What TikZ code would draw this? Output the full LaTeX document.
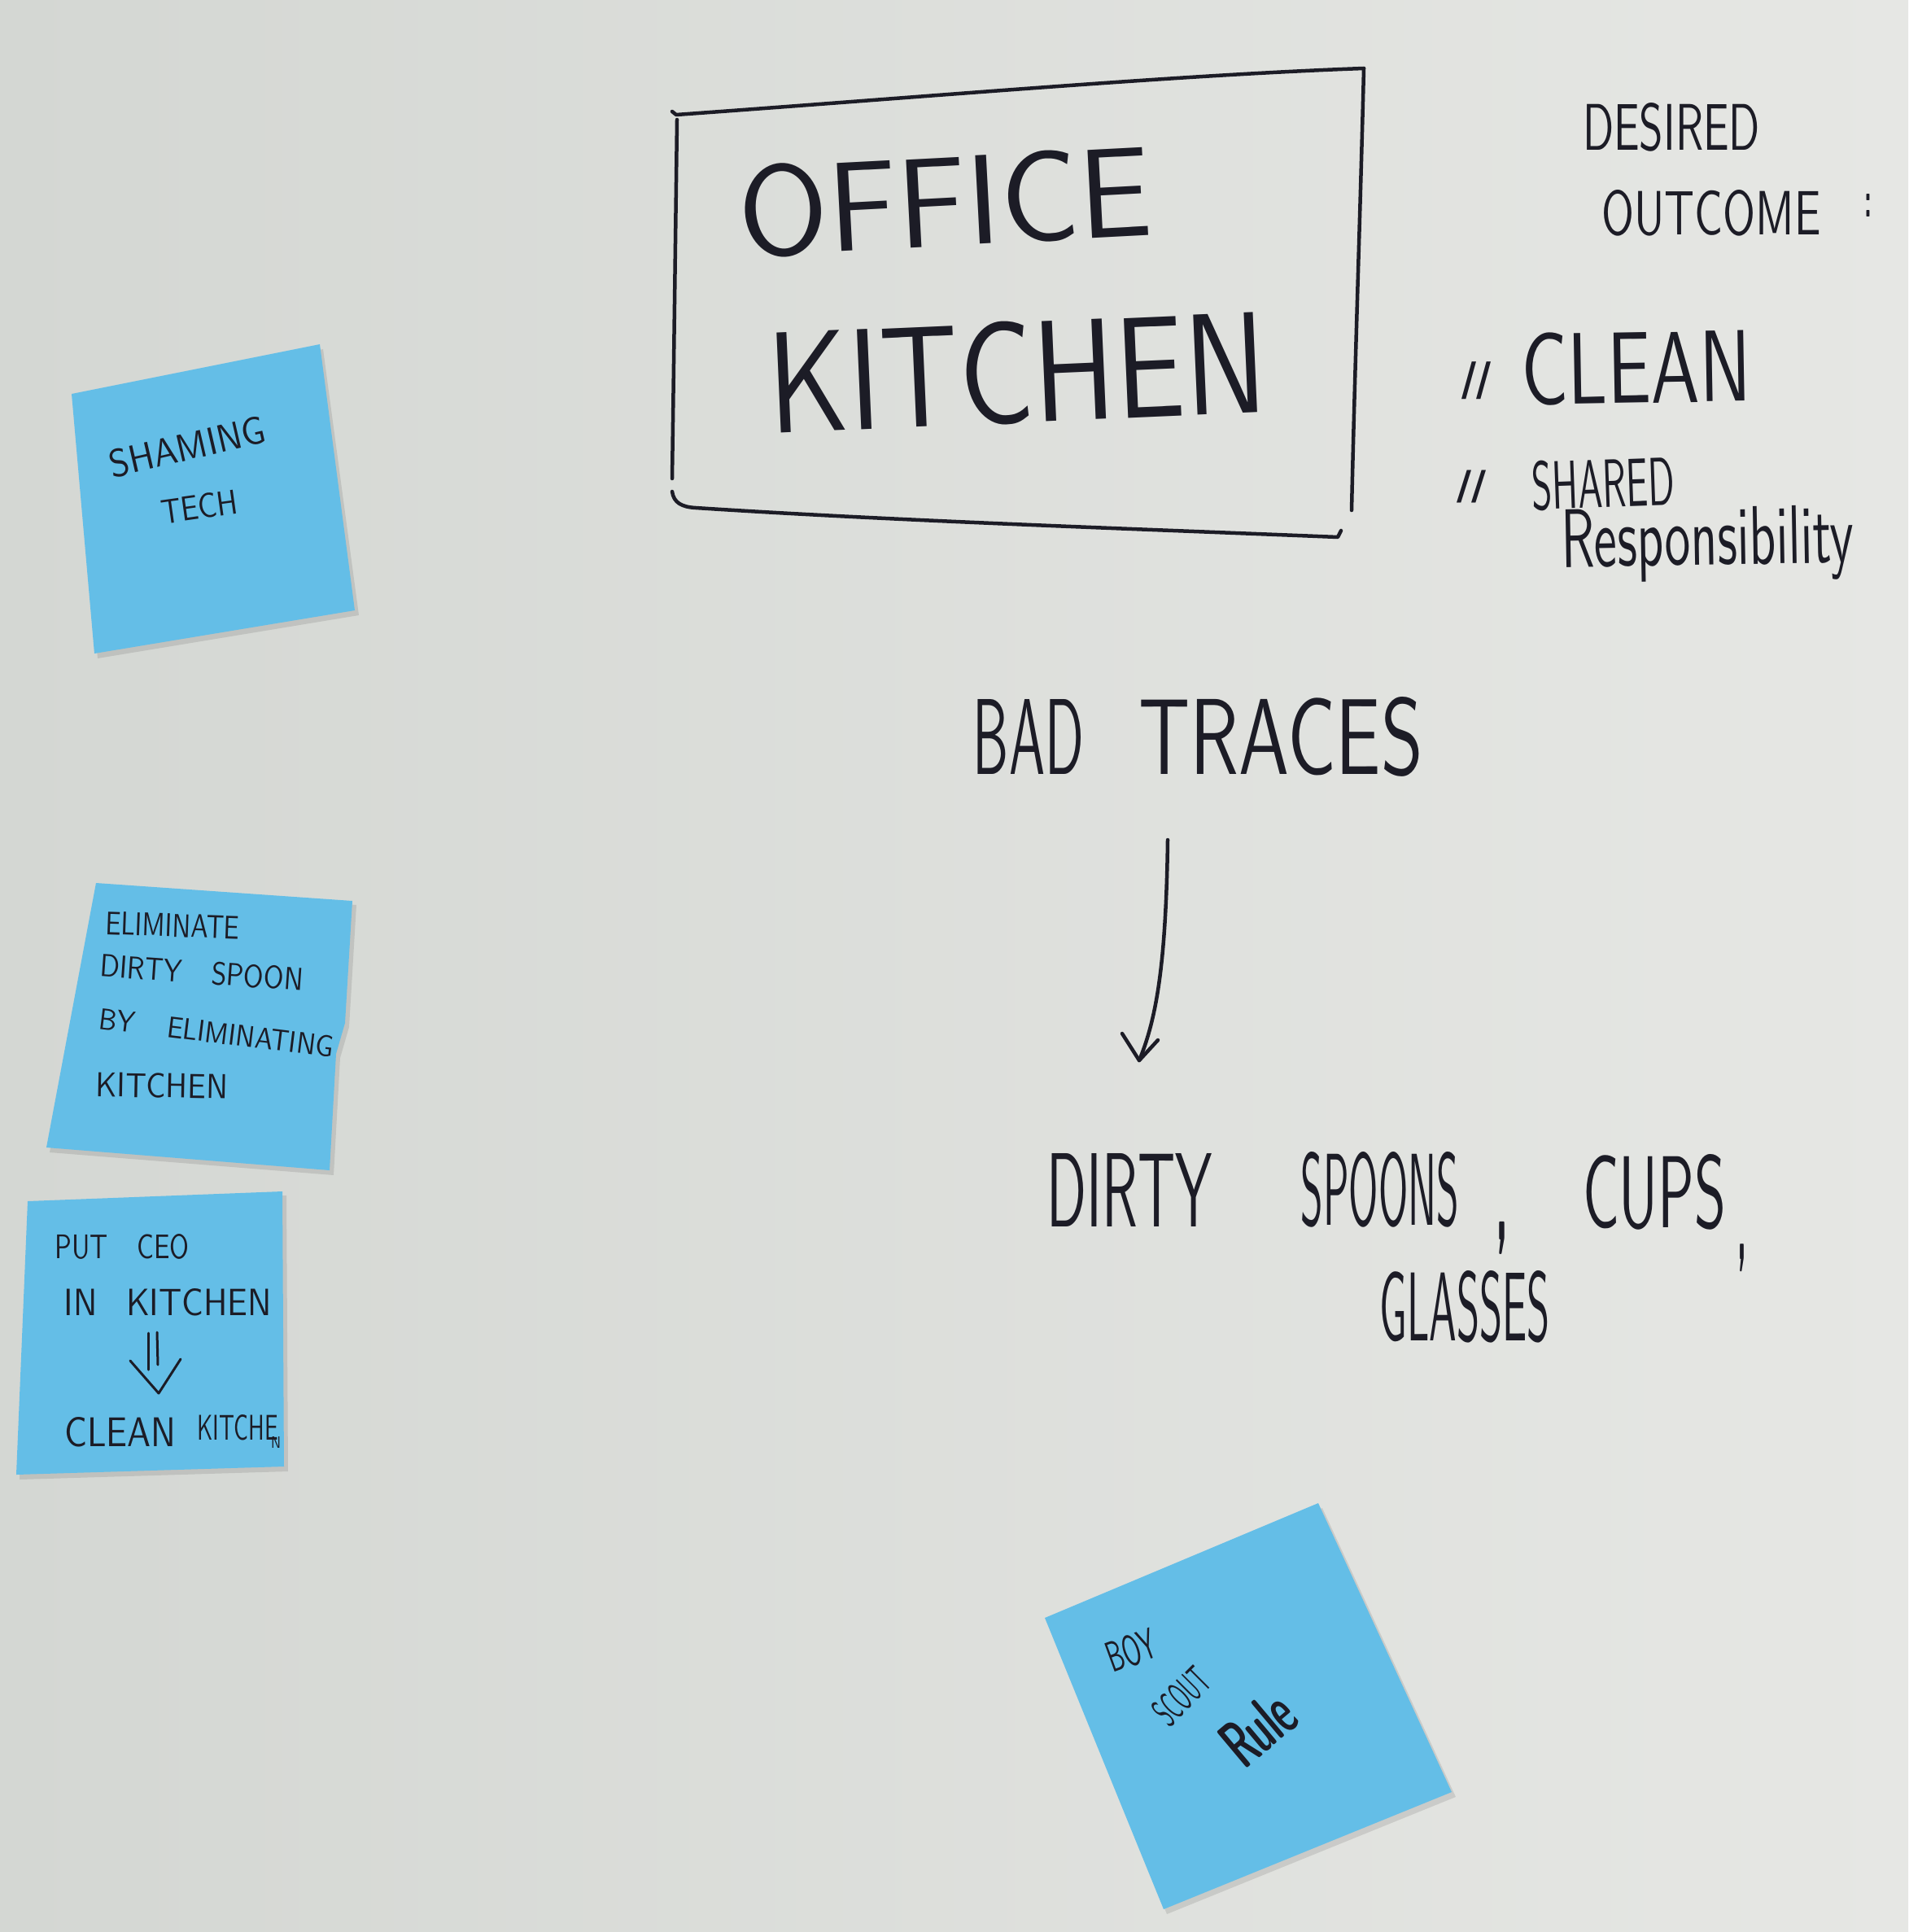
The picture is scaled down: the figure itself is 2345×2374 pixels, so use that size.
\documentclass[tikz,border=0pt]{standalone}
\usepackage{graphicx}
\usepackage{fontspec}
\newfontfamily\heavyfont{DejaVu Sans}
\usetikzlibrary{calc}
\definecolor{paperL}{RGB}{212,215,211}
\definecolor{paperR}{RGB}{230,231,228}
\definecolor{notec}{RGB}{100,190,231}
\definecolor{inkc}{RGB}{28,28,38}
\newcommand{\hwtext}[3]{\resizebox{#1pt}{#2pt}{\sffamily #3}}
\newcommand{\hwtotal}[3]{\resizebox*{#1pt}{#2pt}{\sffamily #3}}
\begin{document}
\begin{tikzpicture}[x=1pt,y=-1pt,
  hand/.style={inner sep=0pt, outer sep=0pt, text=inkc, font=\sffamily},
  pen/.style={draw=inkc, line width=4.5pt, line cap=round, line join=round},
  thinpen/.style={draw=inkc, line width=3pt, line cap=round, line join=round},
  sticky/.style={fill=notec},
  stickyshadow/.style={fill=black, opacity=0.10}]
\useasboundingbox (0,0) rectangle (2345,2374);
\shade[left color=paperL, right color=paperR] (0,0) rectangle (2345,2374);

% ---------- title box ----------
\draw[pen] (826,137) -- (831,141) .. controls (1150,118) and (1450,92) .. (1676,84);
\draw[pen] (1676,84) .. controls (1672,250) and (1665,450) .. (1661,627);
\draw[pen] (832,147) .. controls (830,300) and (828,450) .. (826,588);
\draw[pen] (826,604) .. controls (828,618) and (838,623) .. (855,624)
  .. controls (1100,640) and (1400,650) .. (1644,660) -- (1648,652);
\node[hand, rotate=3] (office) at (1161,248) {\hwtext{508}{112}{OFFICE}};
\node[hand, rotate=2.5] (kitchen) at (1250,458) {\hwtext{612}{125}{KITCHEN}};

% ---------- desired outcome ----------
\node[hand] (desired) at (2054,156) {\hwtext{218}{58}{DESIRED}};
\node[hand] (outcome) at (2103,262) {\hwtext{269}{55}{OUTCOME}};
\node[hand] (colon) at (2296,252) {\hwtext{9}{28}{\bfseries :}};
\node[hand] (slashA) at (1814,468) {\hwtotal{36}{46}{\heavyfont\bfseries //}};
\node[hand, rotate=1] (clean) at (2011,452) {\hwtext{282}{88}{CLEAN}};
\node[hand] (slashB) at (1808,598) {\hwtotal{36}{40}{\heavyfont\bfseries //}};
\node[hand, rotate=2] (shared) at (1970,594) {\hwtext{175}{60}{SHARED}};
\node[hand, anchor=base, rotate=1] (resp) at (2099,694) {\hwtext{360}{71}{Responsibility}};

% ---------- bad traces ----------
\node[hand] (bad) at (1264,905) {\hwtext{136}{92}{BAD}};
\node[hand] (traces) at (1574,905) {\hwtext{349}{95}{TRACES}};
\coordinate (arrTop) at (1435,1032);
\coordinate (arrTip) at (1400,1303);
\coordinate (barbL) at (1379,1270);
\coordinate (barbR) at (1423,1278);
\draw[pen] (arrTop) .. controls (1433,1180) and (1422,1250) .. (arrTip);
\draw[pen] (barbL) -- (arrTip) -- (barbR);

% ---------- dirty spoons ----------
\node[hand] (dirty) at (1388,1462) {\hwtext{203}{90}{DIRTY}};
\node[hand] (spoons) at (1696,1462) {\hwtext{194}{90}{SPOONS}};
\node[hand] (commaA) at (1846,1521) {\hwtotal{15}{40}{\bfseries ,}};
\node[hand] (cups) at (2033,1465) {\hwtext{176}{90}{CUPS}};
\node[hand] (commaB) at (2141,1546) {\hwtotal{11}{34}{\bfseries ,}};
\node[hand] (glasses) at (1800,1606) {\hwtext{209}{86}{GLASSES}};

% ---------- sticky 1 ----------
\fill[stickyshadow] (92,490) -- (397,429) -- (441,756) -- (120,809) -- cycle;
\fill[sticky] (88,484) -- (393,423) -- (436,750) -- (116,803) -- cycle;
\node[hand, rotate=13] (shaming) at (230,549) {\hwtext{195}{34}{SHAMING}};
\node[hand, rotate=8] (tech) at (245,623) {\hwtext{95}{30}{TECH}};

% ---------- sticky 2 ----------
\fill[stickyshadow] (122,1090) -- (438,1112) -- (429,1262) -- (418,1300) -- (410,1444) -- (61,1416) -- cycle;
\fill[sticky] (118,1085) -- (433,1107) -- (424,1257) -- (413,1295) -- (405,1438) -- (57,1410) -- cycle;
\node[hand, rotate=-2] (elimA) at (212,1137) {\hwtext{165}{28}{ELIMINATE}};
\node[hand, rotate=-4] (dspoon) at (248,1195) {\hwtext{250}{28}{DIRTY\hspace{1.1em}SPOON}};
\node[hand, rotate=-7] (byelim) at (266,1269) {\hwtext{290}{26}{BY\hspace{1.2em}ELIMINATING}};
\node[hand, rotate=-1] (kitA) at (199,1334) {\hwtext{162}{30}{KITCHEN}};

% ---------- sticky 3 ----------
\fill[stickyshadow] (38,1481) -- (352,1469) -- (354,1808) -- (24,1818) -- cycle;
\fill[sticky] (34,1476) -- (347,1464) -- (349,1802) -- (20,1812) -- cycle;
\node[hand] (putceo) at (150,1532) {\hwtext{165}{30}{PUT\hspace{1.1em}CEO}};
\node[hand] (inkit) at (206,1600) {\hwtext{255}{33}{IN\hspace{0.86em}KITCHEN}};
\coordinate (dA1) at (182,1638); \coordinate (dA2) at (182,1683);
\coordinate (dB1) at (193,1637); \coordinate (dB2) at (194,1677);
\coordinate (vL) at (160,1672); \coordinate (vT) at (195,1712); \coordinate (vR) at (222,1670);
\draw[thinpen] (dA1) -- (dA2);
\draw[thinpen] (dB1) -- (dB2);
\draw[thinpen] (vL) -- (vT) -- (vR);
\node[hand] (cleanB) at (148,1760) {\hwtext{137}{36}{CLEAN}};
\node[hand] (kitB) at (292,1754) {\hwtext{100}{31}{KITCHE}};
\node[hand] (kitN) at (339,1772) {\hwtext{12}{14}{N}};

% ---------- sticky 4 ----------
\fill[stickyshadow] (1288,1994) -- (1625,1853) -- (1789,2208) -- (1434,2352) -- cycle;
\fill[sticky] (1284,1988) -- (1620,1847) -- (1784,2202) -- (1430,2346) -- cycle;
\node[hand, rotate=20] (boy) at (1390,2028) {\hwtext{62}{38}{BOY}};
\node[hand, rotate=45] (scout) at (1452,2084) {\hwtext{76}{36}{SCOUT}};
\node[hand, rotate=40] (rule) at (1546,2124) {\hwtext{92}{58}{\bfseries Rule}};
\end{tikzpicture}
\end{document}
